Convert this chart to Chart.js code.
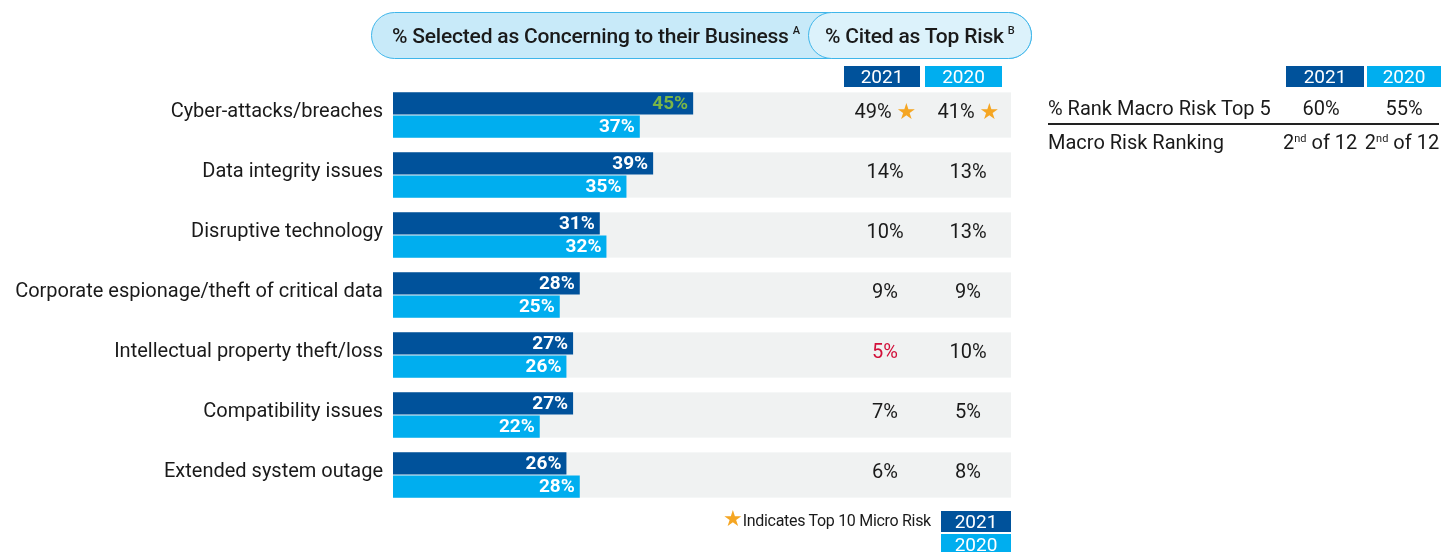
<!DOCTYPE html>
<html>
<head>
<meta charset="utf-8">
<script src="https://cdn.jsdelivr.net/npm/chart.js@4.4.1/dist/chart.umd.min.js"></script>
<style>
  html, body { margin: 0; padding: 0; background: #fff; }
  body { width: 1442px; height: 552px; overflow: hidden; font-family: Roboto, "Noto Sans", sans-serif; color: #1a1a1a; }
  #wrap { position: relative; width: 1442px; height: 552px; }
  #wrap canvas { position: absolute; left: 0; top: 0; }
  .abs { position: absolute; }
  .pill { position: absolute; top: 12px; height: 47px; border: 1.5px solid #3fb6ea; border-radius: 24px; box-sizing: border-box; }
  .pill-outer { left: 371px; width: 661px; background: #c8eaf9; }
  .pill-inner { left: 808px; width: 224px; background: #dcf2fb; }
  .pill-text { position: absolute; top: 23px; font-size: 21px; font-weight: 500; letter-spacing: -0.2px; line-height: 26px; white-space: nowrap; }
  .pill-text sup { font-size: 11px; vertical-align: top; position: relative; top: -5px; margin-left: 4px; }
  .yr { position: absolute; height: 21px; line-height: 22px; color: #fff; font-size: 19px; text-align: center; }
  .y21 { background: #00529b; }
  .y20 { background: #00aeef; }
  .tbl { position: absolute; font-size: 20px; line-height: 22px; white-space: nowrap; }
  .tbl sup { font-size: 11px; vertical-align: top; position: relative; top: -3px; }
  .legend { position: absolute; left: 723px; top: 510px; font-size: 16px; letter-spacing: -0.3px; white-space: nowrap; }
  .legend .star { color: #f5a623; font-size: 22px; line-height: 18px; }
</style>
</head>
<body>
<div id="wrap">
  <canvas id="chart" width="1442" height="552"></canvas>

  <div class="pill pill-outer"></div>
  <div class="pill pill-inner"></div>
  <div class="pill-text" style="left:392px;">% Selected as Concerning to their Business<sup>A</sup></div>
  <div class="pill-text" style="left:825px;">% Cited as Top Risk<sup>B</sup></div>

  <div class="yr y21" style="left:844px; top:66px; width:76px;">2021</div>
  <div class="yr y20" style="left:925px; top:66px; width:77px;">2020</div>

  <div class="yr y21" style="left:1286px; top:66px; width:78px;">2021</div>
  <div class="yr y20" style="left:1367px; top:66px; width:74px;">2020</div>

  <div class="tbl" style="left:1048px; top:97px;">% Rank Macro Risk Top 5</div>
  <div class="tbl" id="m21a" style="left:1286px; top:97px; width:70px; text-align:center;"></div>
  <div class="tbl" id="m20a" style="left:1367px; top:97px; width:74px; text-align:center;"></div>
  <div class="abs" style="left:1048px; top:123px; width:391px; height:1.5px; background:#222;"></div>
  <div class="tbl" style="left:1048px; top:131px;">Macro Risk Ranking</div>
  <div class="tbl" id="m21b" style="left:1283px; top:131px; width:74px; text-align:center;"></div>
  <div class="tbl" id="m20b" style="left:1364px; top:131px; width:76px; text-align:center;"></div>

  <div class="legend"><span class="star">&#9733;</span>Indicates Top 10 Micro Risk</div>
  <div class="yr y21" style="left:941px; top:511px; width:70px;">2021</div>
  <div class="yr y20" style="left:941px; top:534px; width:70px;">2020</div>
</div>

<script>
// categories and values
const categories = [
  'Cyber-attacks/breaches',
  'Data integrity issues',
  'Disruptive technology',
  'Corporate espionage/theft of critical data',
  'Intellectual property theft/loss',
  'Compatibility issues',
  'Extended system outage'
];
const concerning2021 = [45, 39, 31, 28, 27, 27, 26];
const concerning2020 = [37, 35, 32, 25, 26, 22, 28];
const cited2021 = [49, 14, 10, 9, 5, 7, 6];
const cited2020 = [41, 13, 13, 9, 10, 5, 8];
const top10_2021 = [true, false, false, false, false, false, false];
const top10_2020 = [true, false, false, false, false, false, false];
// label colour flags: green = significant increase, red = significant decrease
const concerningFlag2021 = ['up', '', '', '', '', '', ''];
const citedFlag2021 = ['', '', '', '', 'down', '', ''];

const macroYears = ['2021', '2020'];
const macroTop5 = [60, 55];
const macroRank = [2, 2];
const macroOf = 12;

const DARK = '#00529b';
const LIGHT = '#00aeef';
const BAND = '#f0f2f2';
const UP = '#7ab648';
const DOWN = '#d2103a';
const STAR = '#f5a623';

document.getElementById('m21a').textContent = macroTop5[0] + '%';
document.getElementById('m20a').textContent = macroTop5[1] + '%';
document.getElementById('m21b').innerHTML = macroRank[0] + '<sup>nd</sup> of ' + macroOf;
document.getElementById('m20b').innerHTML = macroRank[1] + '<sup>nd</sup> of ' + macroOf;

function flagColor(f, def) {
  if (f === 'up') return UP;
  if (f === 'down') return DOWN;
  return def;
}

// grey row bands behind each category
const bandPlugin = {
  id: 'bands',
  beforeDatasetsDraw(chart) {
    const ctx = chart.ctx;
    const area = chart.chartArea;
    const m0 = chart.getDatasetMeta(0).data;
    const m1 = chart.getDatasetMeta(1).data;
    ctx.save();
    ctx.fillStyle = BAND;
    m0.forEach(function (el, i) {
      const top = el.y - el.height / 2;
      const bot = m1[i].y + m1[i].height / 2;
      ctx.fillRect(area.left, top, area.right - area.left, bot - top);
    });
    ctx.restore();
  }
};

// value labels inside bars + "cited as top risk" columns
const labelPlugin = {
  id: 'labels',
  afterDatasetsDraw(chart) {
    const ctx = chart.ctx;
    const y = chart.scales.y;
    ctx.save();
    ctx.font = 'bold 19px Roboto, sans-serif';
    ctx.textAlign = 'right';
    ctx.textBaseline = 'middle';
    chart.data.datasets.forEach(function (ds, di) {
      chart.getDatasetMeta(di).data.forEach(function (el, i) {
        ctx.fillStyle = di === 0 ? flagColor(concerningFlag2021[i], '#fff') : '#fff';
        ctx.fillText(ds.data[i] + '%', el.x - 5, el.y + 1);
      });
    });

    const cols = [
      { x: 885, vals: cited2021, stars: top10_2021, flags: citedFlag2021 },
      { x: 968, vals: cited2020, stars: top10_2020, flags: null }
    ];
    const valFont = '20px Roboto, sans-serif';
    ctx.font = valFont;
    ctx.textBaseline = 'middle';
    cols.forEach(function (c) {
      c.vals.forEach(function (v, i) {
        const cy = y.getPixelForValue(i) - 2;
        const txt = v + '%';
        const col = c.flags ? flagColor(c.flags[i], '#1a1a1a') : '#1a1a1a';
        if (c.stars[i]) {
          const w = ctx.measureText(txt).width;
          const total = w + 5 + 19;
          const x0 = c.x - total / 2;
          ctx.textAlign = 'left';
          ctx.fillStyle = col;
          ctx.fillText(txt, x0, cy);
          ctx.fillStyle = STAR;
          ctx.font = '22px "DejaVu Sans", sans-serif';
          ctx.fillText('\u2605', x0 + w + 5, cy);
          ctx.font = valFont;
        } else {
          ctx.textAlign = 'center';
          ctx.fillStyle = col;
          ctx.fillText(txt, c.x, cy);
        }
      });
    });
    ctx.restore();
  }
};

new Chart(document.getElementById('chart'), {
  type: 'bar',
  data: {
    labels: categories,
    datasets: [
      { label: '2021', data: concerning2021, backgroundColor: DARK, categoryPercentage: 0.77, barPercentage: 0.96 },
      { label: '2020', data: concerning2020, backgroundColor: LIGHT, categoryPercentage: 0.77, barPercentage: 0.96 }
    ]
  },
  options: {
    indexAxis: 'y',
    responsive: false,
    animation: false,
    layout: { padding: { left: 0, right: 431, top: 85, bottom: 47 } },
    scales: {
      x: { display: false, min: 0, max: 92.65 },
      y: {
        grid: { display: false, drawTicks: false },
        border: { display: false },
        ticks: { color: '#1a1a1a', font: { family: 'Roboto', size: 20 }, padding: 10, labelOffset: -3 },
        afterFit: function (s) { s.width = 393; }
      }
    },
    plugins: { legend: { display: false }, tooltip: { enabled: false } }
  },
  plugins: [bandPlugin, labelPlugin]
});
</script>
</body>
</html>
